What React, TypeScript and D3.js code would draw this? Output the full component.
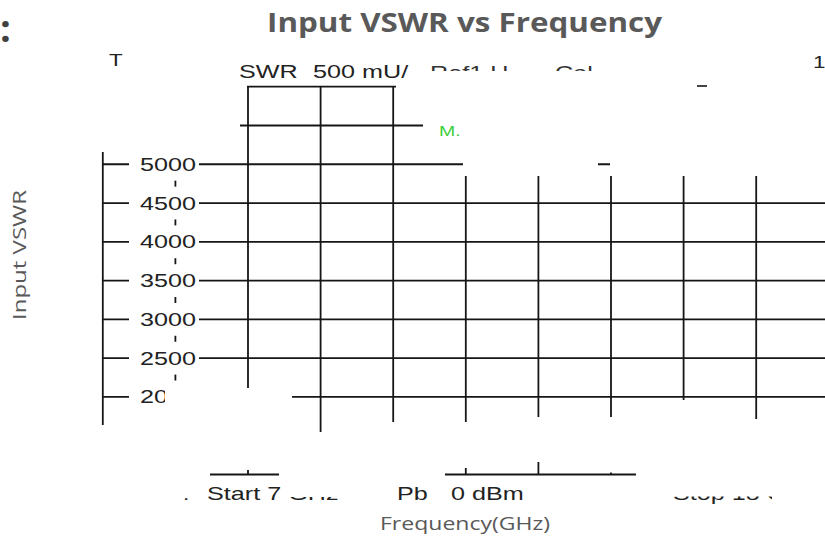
import React from "react";
import * as d3 from "d3";

// ---- data ----
const yTickValues = [5000, 4500, 4000, 3500, 3000, 2500, 2000];
const yTickLabels = ["5000", "4500", "4000", "3500", "3000", "2500", "2000"];
const yGridValues = [6000, 5500, 5000, 4500, 4000, 3500, 3000, 2500, 2000, 1500, 1000];
const xDivisions = [0, 1, 2, 3, 4, 5, 6, 7, 8, 9, 10];
const headerTexts = ["SWR", "500 mU/", "Ref1 U", "Cal"];
const footerTexts = ["Start 7 GHz", "Pb", "0 dBm", "Stop 18 GHz"];
const chartTitle = "Input VSWR vs Frequency";
const xTitle = "Frequency(GHz)";
const yTitle = "Input VSWR";

// ---- layout ----
const W = 825, H = 540;
const GRID = { left: 102.8, right: 828.8, top: 86.7, bottom: 474.5 };
const LINE = "#161616";
// white masks [x0, x1, y0, y1] (screen photo gaps)
const masks: [number, number, number, number][] = [
  [95, 240, 80, 152], [240, 247, 80, 121], [100, 130, 59, 70],
  [416, 830, 71, 84], [396, 830, 84, 120], [423, 830, 120, 158],
  [463, 598, 158, 176], [610, 830, 158, 176],
  [96, 165, 425, 470], [165, 292, 388, 470], [292, 357, 432, 470],
  [357, 502, 422, 468], [502, 575, 417, 462], [575, 647, 417, 472.5],
  [647, 720, 400, 470], [720, 830, 419, 470],
  [95, 210, 468, 481], [279, 445, 468, 481], [636, 830, 468, 481],
];

const VT = ({ x, y, t, size = 18, fill = "#222", sx = 1.4 }: any) => (
  <text
    transform={`translate(${x},${y}) scale(${sx},1)`}
    fontFamily="'Liberation Sans', Arial, sans-serif"
    fontSize={size}
    fill={fill}
  >
    {t}
  </text>
);

export default function App() {
  const x = d3.scaleLinear().domain([0, 10]).range([GRID.left, GRID.right]);
  const y = d3.scaleLinear().domain([1000, 6000]).range([GRID.bottom, GRID.top]);
  const halfBox = (y(4500) - y(5000)) / 2 - 3;

  return (
    <svg width={W} height={H} style={{ position: "absolute", left: 0, top: 0, background: "#fff" }}>
      <rect width={W} height={H} fill="#fff" />
      {/* grid */}
      {yGridValues.map((v) => (
        <line key={"h" + v} x1={GRID.left} x2={GRID.right} y1={y(v)} y2={y(v)} stroke={LINE} strokeWidth={1.8} />
      ))}
      {xDivisions.map((d) => (
        <line key={"v" + d} x1={x(d)} x2={x(d)} y1={GRID.top} y2={GRID.bottom} stroke={LINE} strokeWidth={1.8} />
      ))}
      {/* tick label boxes */}
      {yTickValues.map((v, i) => (
        <g key={"t" + v}>
          <rect x={129} y={y(v) - halfBox} width={70} height={halfBox * 2} fill="#fff" />
          <VT x={140} y={y(v) + 6.5} t={yTickLabels[i]} />
        </g>
      ))}
      {/* masks */}
      {masks.map((m, i) => (
        <rect key={"m" + i} x={m[0]} y={m[2]} width={m[1] - m[0]} height={m[3] - m[2]} fill="#fff" />
      ))}
      {/* header fragments */}
      <VT x={109} y={66} t="T" size={16} />
      <VT x={239} y={78} t={headerTexts[0]} />
      <VT x={313} y={78} t={headerTexts[1]} />
      <g>
        <VT x={430} y={79} t={headerTexts[2]} fill="#333" />
        <VT x={555} y={79} t={headerTexts[3]} fill="#333" />
        <rect x={416} y={71} width={414} height={12} fill="#fff" />
      </g>
      <VT x={813} y={68} t="1" size={16} />
      <line x1={697} x2={707} y1={86} y2={86} stroke={LINE} strokeWidth={1.6} />
      <VT x={439} y={136} t="M." size={15} sx={1.3} fill="#3ccf3c" />
      {/* footer fragments */}
      <VT x={183} y={500} t="." size={16} />
      <g>
        <VT x={207} y={500} t={footerTexts[0]} />
        <rect x={281} y={480} width={71} height={17} fill="#fff" />
      </g>
      <VT x={397} y={500} t={footerTexts[1]} />
      <VT x={451} y={500} t={footerTexts[2]} />
      <g>
        <VT x={673} y={500} t={footerTexts[3]} />
        <rect x={668} y={478} width={162} height={18.5} fill="#fff" />
        <rect x={772} y={478} width={58} height={28} fill="#fff" />
      </g>
      {/* figure label fragment */}
      <text x={0} y={42} fontFamily="'Open Sans', sans-serif" fontWeight={700} fontSize={38} fill="#404040">:</text>
      {/* titles */}
      <text
        x={464.5}
        y={32}
        textAnchor="middle"
        fontFamily="'Open Sans', sans-serif"
        fontWeight={700}
        fontSize={27}
        fill="#595959"
        textLength={395}
        lengthAdjust="spacingAndGlyphs"
      >
        {chartTitle}
      </text>
      <text
        x={465}
        y={530}
        textAnchor="middle"
        fontFamily="'Open Sans', sans-serif"
        fontSize={19}
        fill="#595959"
        textLength={170}
        lengthAdjust="spacingAndGlyphs"
      >
        {xTitle}
      </text>
      <text
        transform="translate(26,255) rotate(-90)"
        textAnchor="middle"
        fontFamily="'Open Sans', sans-serif"
        fontSize={19}
        fill="#595959"
        textLength={130}
        lengthAdjust="spacingAndGlyphs"
      >
        {yTitle}
      </text>
    </svg>
  );
}
